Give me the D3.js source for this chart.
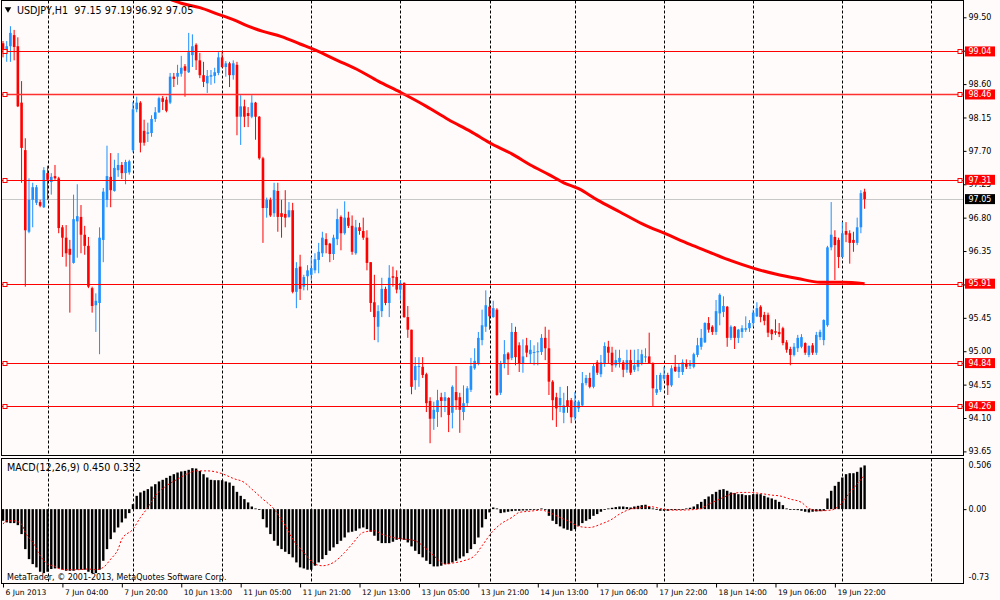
<!DOCTYPE html>
<html><head><meta charset="utf-8">
<script src="https://cdn.jsdelivr.net/npm/d3@7"></script>
<style>
html,body{margin:0;padding:0;background:#FFFBFA;}
svg{display:block;}
text{font-family:"DejaVu Sans",sans-serif;font-size:8px;fill:#000;}
text.ttl{font-size:9.6px;}
.timeax text{font-size:7.6px;}
</style></head><body>
<svg id="c" width="1000" height="600"></svg>
<script>
// ---------------- DATA ----------------
const symbolTitle = "USDJPY,H1  97.15 97.19 96.92 97.05";
const macdTitle = "MACD(12,26,9) 0.450 0.352";
const copyright = "MetaTrader, \u00A9 2001-2013, MetaQuotes Software Corp.";

const open = [
99.15,99.03,99.11,99.26,99.11,98.35,97.71,96.61,97.04,97.00,
97.01,96.94,97.40,97.28,97.36,97.33,96.67,96.53,96.38,96.19,
96.75,96.81,96.57,96.42,95.85,95.62,95.65,96.50,97.04,97.35,
97.16,97.44,97.51,97.40,97.41,97.71,98.26,98.35,97.97,97.93,
97.94,98.13,98.22,98.41,98.39,98.35,98.70,98.70,98.74,98.84,
98.76,98.99,99.13,98.92,98.72,98.61,98.70,98.71,98.75,98.96,
98.83,98.88,98.72,98.86,98.16,98.30,98.21,98.16,98.35,98.16,
97.60,96.93,97.04,96.86,97.16,96.86,96.85,96.81,96.90,95.80,
96.14,95.87,96.01,96.03,96.09,96.23,96.32,96.51,96.45,96.31,
96.51,96.81,96.59,96.80,96.69,96.32,96.67,96.62,96.53,96.20,
95.66,95.33,95.54,95.84,95.65,96.01,96.00,95.83,95.92,95.46,
95.29,94.61,94.79,94.79,94.69,94.33,94.09,94.18,94.38,94.33,
94.37,94.17,94.45,94.38,94.18,94.30,94.48,94.77,94.84,95.15,
95.33,95.60,95.46,95.56,94.44,94.84,94.97,94.91,95.26,95.08,
94.84,95.08,94.96,94.98,94.99,94.99,95.18,95.04,94.59,94.38,
94.27,94.17,94.34,94.34,94.11,94.23,94.27,94.57,94.64,94.52,
94.85,94.69,94.84,95.06,94.98,94.81,94.85,94.85,94.75,94.88,
94.75,94.79,94.84,94.92,94.93,94.84,94.44,94.48,94.63,94.68,
94.54,94.79,94.72,94.72,94.84,94.80,94.79,94.95,95.06,95.12,
95.38,95.33,95.26,95.51,95.53,95.60,95.18,95.33,95.18,95.26,
95.29,95.31,95.38,95.47,95.60,95.49,95.49,95.29,95.27,95.26,
95.31,95.12,95.03,94.95,95.04,95.06,95.11,94.95,95.08,94.98,
95.19,95.15,95.35,96.40,96.54,96.50,96.27,96.62,96.59,96.50,
96.46,96.67,97.15];

const high = [
99.18,99.18,99.38,99.33,99.23,98.64,97.87,97.33,97.27,97.24,
97.04,97.48,97.50,97.40,97.51,97.35,96.70,96.70,96.50,97.11,
97.25,96.97,96.69,96.54,95.87,95.78,96.67,97.20,97.77,97.67,
97.58,97.67,97.55,97.58,97.58,98.36,98.43,98.37,98.12,98.08,
98.18,98.29,98.43,98.44,98.43,98.75,98.75,98.86,98.98,98.87,
99.29,99.27,99.15,99.02,98.90,98.79,98.79,98.82,99.03,99.03,
98.91,98.90,98.92,98.90,98.45,98.39,98.29,98.45,98.36,98.17,
97.62,97.07,97.07,97.27,97.27,97.04,97.17,97.01,97.00,96.20,
96.30,96.03,96.16,96.27,96.32,96.46,96.61,96.59,96.46,96.57,
96.92,96.83,97.02,96.88,96.83,96.77,96.73,96.80,96.63,96.20,
96.03,95.62,95.99,95.87,96.16,96.14,96.09,95.96,95.93,95.61,
95.29,94.92,94.92,94.92,94.71,94.38,94.32,94.48,94.44,94.45,
94.38,94.54,94.80,94.44,94.54,94.53,94.91,95.04,95.26,95.56,
95.82,95.73,95.68,95.58,94.87,95.15,94.99,95.38,95.33,95.12,
95.16,95.18,95.15,95.08,95.12,95.23,95.33,95.29,94.61,94.44,
94.52,94.44,94.53,94.37,94.45,94.34,94.72,94.68,94.71,94.84,
94.88,94.95,95.12,95.14,95.06,95.02,95.02,94.88,95.02,95.02,
95.02,95.03,95.02,95.04,95.25,94.85,94.68,94.71,94.79,94.71,
94.81,94.95,94.84,94.89,94.89,94.88,94.98,95.18,95.30,95.39,
95.46,95.35,95.69,95.78,95.74,95.61,95.35,95.34,95.30,95.35,
95.47,95.42,95.56,95.66,95.62,95.53,95.52,95.30,95.43,95.38,
95.33,95.15,95.06,95.11,95.22,95.23,95.12,95.08,95.11,95.26,
95.29,95.43,96.42,97.01,96.63,96.53,96.74,96.74,96.63,96.61,
96.80,97.17,97.19];

const low = [
98.96,98.90,98.90,98.92,98.29,97.27,95.87,96.59,96.67,96.97,
96.94,96.93,97.04,97.11,97.31,96.59,96.27,96.14,95.52,96.18,
96.26,96.32,96.30,95.85,95.52,95.26,94.96,96.20,96.94,96.94,
97.15,97.35,97.32,97.25,97.38,97.68,98.22,97.68,97.77,97.82,
97.89,98.09,98.21,98.25,98.22,98.33,98.56,98.59,98.70,98.43,
98.75,98.83,98.79,98.68,98.56,98.48,98.59,98.61,98.72,98.82,
98.70,98.56,98.66,97.91,97.78,98.02,98.02,98.14,97.85,97.58,
96.46,96.80,96.81,96.81,96.61,96.53,96.67,96.80,95.78,95.58,
95.69,95.82,95.82,95.96,96.05,96.05,96.27,96.32,96.20,96.23,
96.43,96.36,96.57,96.66,96.30,96.30,96.57,96.50,96.09,95.53,
95.15,95.12,95.46,95.62,95.46,95.87,95.78,95.69,95.45,95.18,
94.42,94.48,94.52,94.64,94.18,93.76,93.94,93.98,94.11,94.18,
93.91,93.96,94.21,93.90,94.07,94.25,94.45,94.75,94.81,95.08,
95.26,95.29,95.45,94.40,94.41,94.77,94.68,94.88,94.81,94.72,
94.71,94.92,94.84,94.81,94.81,94.95,94.88,94.41,94.07,93.98,
94.18,94.03,94.17,94.03,94.07,94.18,94.25,94.54,94.50,94.50,
94.68,94.65,94.79,94.84,94.72,94.78,94.78,94.65,94.71,94.68,
94.72,94.73,94.81,94.85,94.83,94.25,94.41,94.45,94.60,94.41,
94.52,94.72,94.64,94.68,94.76,94.76,94.77,94.92,95.02,95.11,
95.25,95.22,95.22,95.35,95.46,95.06,95.15,95.03,95.11,95.18,
95.26,95.26,95.33,95.46,95.39,95.35,95.19,95.15,95.22,95.19,
95.08,94.98,94.81,94.93,94.99,95.04,94.95,94.92,94.95,94.95,
95.15,95.08,95.33,96.36,95.96,96.12,96.26,96.47,96.18,96.34,
96.43,96.59,96.92];

const close = [
99.06,99.11,99.29,99.10,98.30,97.74,96.63,97.04,97.21,97.21,
96.96,97.44,97.31,97.35,97.33,96.66,96.53,96.32,96.30,96.78,
96.82,96.57,96.42,95.87,95.61,95.68,96.53,97.15,97.36,97.17,
97.47,97.51,97.40,97.55,97.56,98.26,98.35,97.81,97.81,97.95,
98.13,98.22,98.41,98.36,98.24,98.70,98.67,98.75,98.82,98.78,
99.03,99.11,98.92,98.72,98.63,98.71,98.72,98.76,98.96,98.83,
98.88,98.72,98.88,98.16,98.30,98.16,98.17,98.35,98.16,97.60,
96.93,97.04,96.83,97.17,96.81,96.81,96.80,96.90,95.80,96.12,
95.84,96.00,96.09,96.12,96.24,96.34,96.53,96.43,96.31,96.53,
96.78,96.59,96.80,96.69,96.34,96.67,96.62,96.53,96.19,95.65,
95.46,95.54,95.84,95.65,95.99,95.99,95.83,95.92,95.46,95.29,
94.52,94.80,94.80,94.68,94.30,94.09,94.21,94.34,94.33,94.38,
94.14,94.52,94.34,94.21,94.30,94.50,94.80,94.87,95.18,95.35,
95.62,95.47,95.58,94.41,94.84,94.96,94.89,95.26,94.92,94.84,
94.93,94.98,95.02,94.99,95.00,95.18,95.04,94.59,94.34,94.23,
94.37,94.27,94.25,94.11,94.32,94.32,94.57,94.64,94.52,94.80,
94.71,94.85,95.07,94.98,94.81,94.88,94.91,94.75,94.88,94.71,
94.81,94.88,94.96,94.93,94.84,94.50,94.49,94.68,94.68,94.54,
94.77,94.73,94.79,94.85,94.79,94.84,94.96,95.08,95.18,95.38,
95.29,95.26,95.54,95.76,95.61,95.18,95.33,95.18,95.29,95.31,
95.31,95.38,95.52,95.58,95.46,95.41,95.25,95.23,95.25,95.23,
95.11,95.02,94.95,95.06,95.18,95.19,94.98,95.07,94.98,95.22,
95.26,95.42,96.40,96.57,96.43,96.27,96.59,96.57,96.46,96.46,
96.67,97.13,97.05];

// 200-period moving average (read at sample bars)
const maBars = [44,48,53,58,62,66,70,75,80,84,90,96,101,107,114,120,126,131,137,142,147,151,155,160,166,172,179,185,190,196,202,208,214,220,226,232];
const maValues = [99.76,99.69,99.63,99.54,99.47,99.38,99.31,99.24,99.14,99.06,98.92,98.78,98.64,98.49,98.30,98.12,97.96,97.81,97.66,97.51,97.38,97.27,97.19,97.04,96.88,96.72,96.57,96.44,96.34,96.22,96.12,96.04,95.98,95.93,95.93,95.91];

// MACD main (histogram), one per bar
const macd = [
-0.120,-0.137,-0.144,-0.144,-0.165,-0.257,-0.412,-0.515,-0.566,-0.600,
-0.645,-0.659,-0.645,-0.617,-0.611,-0.611,-0.624,-0.635,-0.635,-0.635,
-0.624,-0.624,-0.624,-0.645,-0.659,-0.659,-0.624,-0.532,-0.412,-0.309,
-0.240,-0.189,-0.137,-0.096,-0.041,0.051,0.137,0.172,0.189,0.206,
0.233,0.257,0.285,0.302,0.322,0.343,0.360,0.377,0.388,0.394,
0.405,0.422,0.418,0.394,0.360,0.326,0.302,0.298,0.298,0.298,
0.285,0.274,0.240,0.178,0.137,0.103,0.069,0.027,0.007,-0.007,
-0.103,-0.189,-0.257,-0.326,-0.377,-0.412,-0.439,-0.463,-0.497,-0.549,
-0.600,-0.611,-0.624,-0.624,-0.583,-0.549,-0.515,-0.473,-0.429,-0.394,
-0.360,-0.326,-0.292,-0.240,-0.233,-0.223,-0.199,-0.189,-0.206,-0.233,
-0.274,-0.326,-0.350,-0.350,-0.350,-0.336,-0.316,-0.309,-0.316,-0.343,
-0.384,-0.429,-0.463,-0.497,-0.532,-0.566,-0.590,-0.590,-0.583,-0.566,
-0.566,-0.549,-0.532,-0.508,-0.487,-0.453,-0.412,-0.360,-0.292,-0.189,
-0.103,-0.034,0.017,0.007,-0.041,-0.034,-0.027,-0.021,-0.017,-0.017,
-0.014,-0.014,-0.010,-0.007,0.000,0.007,-0.007,-0.069,-0.120,-0.154,
-0.178,-0.199,-0.213,-0.223,-0.206,-0.172,-0.144,-0.120,-0.103,-0.069,
-0.051,-0.027,-0.007,0.007,0.014,0.021,0.027,0.027,0.021,0.017,
0.027,0.034,0.041,0.045,0.027,0.007,-0.007,-0.017,-0.017,-0.017,
-0.010,-0.010,-0.007,0.000,0.007,0.014,0.027,0.051,0.075,0.103,
0.130,0.154,0.178,0.199,0.206,0.189,0.172,0.165,0.154,0.154,
0.144,0.144,0.154,0.154,0.154,0.137,0.120,0.110,0.096,0.075,
0.041,0.007,-0.007,-0.007,-0.010,-0.017,-0.027,-0.034,-0.027,-0.024,
-0.021,-0.017,0.110,0.189,0.240,0.281,0.326,0.360,0.370,0.370,
0.384,0.429,0.450];

// MACD signal line (read at sample bars)
const sigBars = [0,1,3,5,6,8,10,12,14,15,17,20,23,25,27,29,31,32,35,37,39,41,44,47,50,52,55,58,60,62,65,67,70,73,76,78,81,84,86,89,92,94,97,100,102,105,108,111,113,116,119,121,124,127,129,132,134,137,139,142,145,147,150,153,155,158,161,164,166,169,172,174,177,180,182,185,188,190,193,196,199,201,204,207,209,212,215,217,220,223,225,228,230,232];
const sigValues = [-0.154,-0.120,-0.120,-0.154,-0.240,-0.343,-0.480,-0.566,-0.590,-0.611,-0.624,-0.624,-0.617,-0.624,-0.600,-0.515,-0.412,-0.309,-0.206,-0.086,0.017,0.137,0.240,0.309,0.370,0.394,0.394,0.377,0.350,0.316,0.274,0.206,0.103,0.000,-0.172,-0.309,-0.446,-0.566,-0.583,-0.549,-0.446,-0.360,-0.240,-0.223,-0.257,-0.292,-0.309,-0.326,-0.377,-0.480,-0.566,-0.556,-0.532,-0.480,-0.377,-0.223,-0.154,-0.086,-0.034,-0.021,-0.010,-0.034,-0.086,-0.137,-0.178,-0.189,-0.154,-0.103,-0.051,0.000,0.017,0.027,0.007,-0.010,-0.010,-0.007,0.007,0.051,0.103,0.154,0.172,0.172,0.161,0.144,0.137,0.103,0.069,0.007,-0.017,-0.010,0.030,0.170,0.260,0.352];

const hLevels = [99.04, 98.46, 97.31, 95.91, 94.84, 94.26];
const bidPrice = 97.05;
const priceTicks = [99.50,99.05,98.60,98.15,97.70,97.25,96.80,96.35,95.90,95.45,95.00,94.55,94.10,93.65];
const macdTicks = [0.506, 0, -0.73];
const macdTickLabels = ["0.506", "0.00", "-0.73"];
const timeBars = [0,16,32,48,64,80,96,112,128,144,160,176,192,208,224];
const timeLabels = ["6 Jun 2013","7 Jun 04:00","7 Jun 20:00","10 Jun 13:00","11 Jun 05:00","11 Jun 21:00","12 Jun 13:00","13 Jun 05:00","13 Jun 21:00","14 Jun 13:00","17 Jun 06:00","17 Jun 22:00","18 Jun 14:00","19 Jun 06:00","19 Jun 22:00"];
const gridBars = [12,35,59,83,107,131,154,178,202,226,250];

// ---------------- LAYOUT ----------------
const L = 1.5, R = 963.5, MT = 0.5, MB = 455.5, IT = 458.5, IB = 583.5;
const UP = "#1E90FF", DN = "#FF0000", BG = "#FFFBFA";

const svg = d3.select("#c");
svg.append("rect").attr("width",1000).attr("height",600).attr("fill",BG);

const x = d3.scaleLinear().domain([0, 232]).range([3, 864.6]);
const y = d3.scaleLinear().domain([93.65, 99.50]).range([451.4, 17.3]);
const ym = d3.scaleLinear().domain([-0.73, 0.506]).range([580, 460]);

const defs = svg.append("defs");
defs.append("clipPath").attr("id","clipMain").append("rect")
  .attr("x",L).attr("y",MT).attr("width",R-L).attr("height",MB-MT);
defs.append("clipPath").attr("id","clipInd").append("rect")
  .attr("x",L).attr("y",IT).attr("width",R-L).attr("height",IB-IT);

const main = svg.append("g").attr("clip-path","url(#clipMain)");
const ind = svg.append("g").attr("clip-path","url(#clipInd)");

// grid
gridBars.forEach(b => {
  const gx = Math.round(x(b)) + 0.5;
  main.append("line").attr("x1",gx).attr("x2",gx).attr("y1",MT).attr("y2",MB)
    .attr("stroke","#000").attr("stroke-dasharray","3,2");
  ind.append("line").attr("x1",gx).attr("x2",gx).attr("y1",IT).attr("y2",IB)
    .attr("stroke","#000").attr("stroke-dasharray","3,2");
});

// bid line
main.append("line").attr("x1",L).attr("x2",R)
  .attr("y1",Math.round(y(bidPrice))+0.5).attr("y2",Math.round(y(bidPrice))+0.5)
  .attr("stroke","#C8C8C8").attr("stroke-width",1);

// candles
const idx = d3.range(close.length);
const cg = main.append("g");
cg.selectAll("line.wick").data(idx).join("line").attr("class","wick")
  .attr("x1", i => x(i)).attr("x2", i => x(i))
  .attr("y1", i => y(Math.max(high[i], open[i], close[i])))
  .attr("y2", i => y(Math.min(low[i], open[i], close[i])))
  .attr("stroke", i => close[i] >= open[i] ? UP : DN)
  .attr("stroke-width", 1);
cg.selectAll("rect.body").data(idx).join("rect").attr("class","body")
  .attr("x", i => x(i) - 1.3).attr("width", 2.6)
  .attr("y", i => y(Math.max(open[i], close[i])))
  .attr("height", i => Math.max(1, Math.abs(y(open[i]) - y(close[i]))))
  .attr("fill", i => close[i] >= open[i] ? UP : DN);

// moving average
main.append("path")
  .attr("d", d3.line().x((d,i)=>x(maBars[i])).y(d=>y(d)).curve(d3.curveMonotoneX)(maValues))
  .attr("fill","none").attr("stroke","#FF0000").attr("stroke-width",3).attr("stroke-linejoin","round");

// horizontal levels
hLevels.forEach((p,k) => {
  const ly = Math.round(y(p)) + 0.5;
  main.append("line").attr("x1",L).attr("x2",R).attr("y1",ly).attr("y2",ly)
    .attr("stroke", p === 98.46 ? "#FF3030" : "#FF0000").attr("stroke-width", p === 98.46 ? 1.6 : 1);
  [5, 960].forEach(sx => {
    main.append("rect").attr("x",sx-2).attr("y",ly-2).attr("width",4).attr("height",4)
      .attr("fill","#fff").attr("stroke","#FF0000").attr("stroke-width",1);
  });
});

// MACD histogram
ind.selectAll("rect.h").data(idx).join("rect").attr("class","h")
  .attr("x", i => x(i) - 1.2).attr("width", 2.4)
  .attr("y", i => Math.min(ym(0), ym(macd[i])))
  .attr("height", i => Math.max(0.8, Math.abs(ym(macd[i]) - ym(0))))
  .attr("fill","#000");

// MACD signal
ind.append("path")
  .attr("d", d3.line().x((d,i)=>x(sigBars[i])).y(d=>ym(d)).curve(d3.curveMonotoneX)(sigValues))
  .attr("fill","none").attr("stroke","#FF0000").attr("stroke-width",1).attr("stroke-dasharray","2,2");

// frames
svg.append("rect").attr("x",L).attr("y",MT).attr("width",R-L).attr("height",MB-MT)
  .attr("fill","none").attr("stroke","#000");
svg.append("rect").attr("x",L).attr("y",IT).attr("width",R-L).attr("height",IB-IT)
  .attr("fill","none").attr("stroke","#000");

// price axis
const pa = svg.append("g").attr("transform",`translate(${R},0)`)
  .call(d3.axisRight(y).tickValues(priceTicks).tickFormat(d3.format(".2f")).tickSize(3).tickPadding(2));
pa.select(".domain").remove();

// macd axis
const ma = svg.append("g").attr("transform",`translate(${R},0)`)
  .call(d3.axisRight(ym).tickValues(macdTicks).tickFormat((d,i)=>macdTickLabels[i]).tickSize(3).tickPadding(2));
ma.select(".domain").remove();
ma.selectAll(".tick").filter(d => d === 0.506).select("text").attr("dy","0.95em");
ma.selectAll(".tick").filter(d => d === -0.73).select("text").attr("dy","-0.05em");
ma.selectAll(".tick").filter(d => d !== 0).select("line").remove();

// level labels on the axis
function priceBox(p, col) {
  const by = y(p);
  svg.append("rect").attr("x",R+1.5).attr("y",by-5).attr("width",30).attr("height",10).attr("fill",col);
  svg.append("text").attr("x",R+5).attr("y",by).attr("dy","0.35em").text(p.toFixed(2)).style("fill","#fff");
}
hLevels.forEach(p => priceBox(p, "#FF0000"));
priceBox(bidPrice, "#000");

// time axis
const ta = svg.append("g").attr("class","timeax").attr("transform",`translate(0,${IB})`)
  .call(d3.axisBottom(x).tickValues(timeBars).tickFormat((d,i)=>timeLabels[i]).tickSize(4).tickPadding(2));
ta.select(".domain").remove();
ta.selectAll(".tick text").attr("x",2).style("text-anchor","start");

// titles
svg.append("path").attr("d", d3.symbol().type(d3.symbolTriangle).size(18)())
  .attr("transform","translate(8,9) rotate(180)").attr("fill","#000");
svg.append("text").attr("class","ttl").attr("x",17).attr("y",13.5).style("white-space","pre").text(symbolTitle);
svg.append("text").attr("class","ttl").attr("x",7).attr("y",470.5).text(macdTitle);
svg.append("text").attr("x",7).attr("y",580).text(copyright);
</script>
</body></html>
